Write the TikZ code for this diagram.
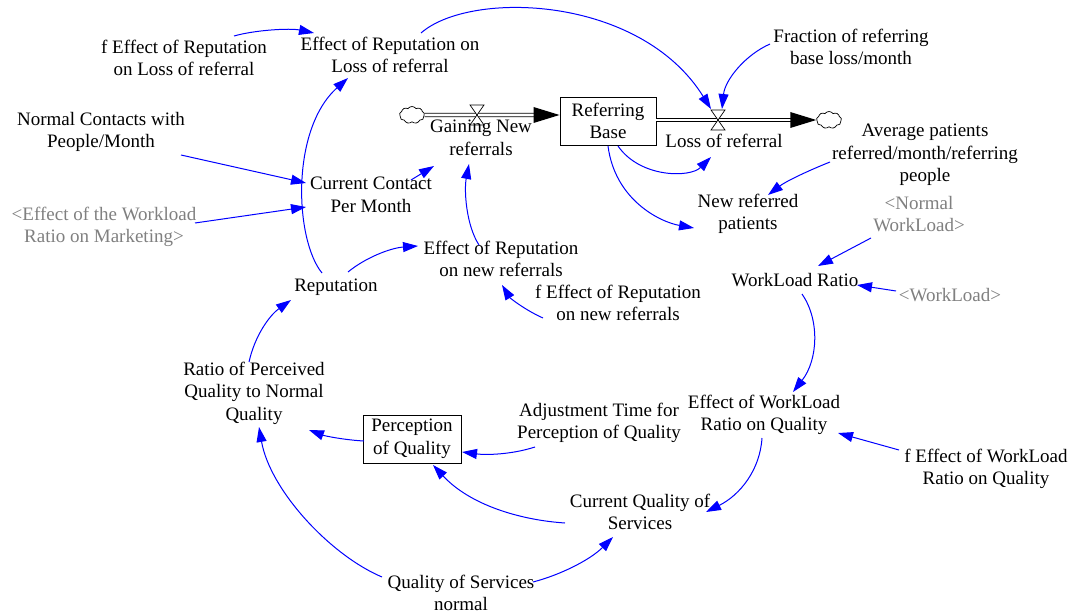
\documentclass[tikz,border=0pt]{standalone}
\usepackage{fontspec}
\setmainfont{Liberation Serif}
\usetikzlibrary{arrows.meta,calc,shapes.symbols}
\definecolor{vblue}{RGB}{0,0,255}
\definecolor{vgray}{RGB}{128,128,128}
\newcommand{\vfs}{\fontsize{19}{22.5}\selectfont}
\tikzset{
  lbl/.style={align=center, inner sep=1pt, font=\vfs},
  shadow/.style={lbl, text=vgray},
  stockbox/.style={draw, line width=0.9pt, align=center, font=\vfs, minimum width=96pt, minimum height=48pt, inner sep=1pt},
  arr/.style={draw=vblue, line width=1pt, -{Triangle[length=15pt,width=10pt]}, fill=none},
  pipe/.style={draw=black, double=white, double distance=2.6pt, line width=0.8pt},
  cloudn/.style={cloud, draw, cloud puffs=9, cloud puff arc=110, minimum width=25pt, minimum height=17pt, inner sep=0pt, line width=0.7pt, fill=white},
  valvetri/.style={draw=black, fill=white, line width=0.7pt}
}
\begin{document}
\begin{tikzpicture}[x=1pt,y=-1pt]
\useasboundingbox (0,0) rectangle (1073,615);
\fill[white] (0,0) rectangle (1073,615);

% stocks
\node[stockbox] (RB) at (608,121) {Referring\\Base};
\node[stockbox, minimum width=98pt] (PQ) at (412,439) {Perception\\of Quality};

% clouds and valves
\node[cloudn] (c1) at (412,115) {};
\node[cloudn] (c2) at (829,120) {};
\coordinate (v1) at (477,115);
\coordinate (v2) at (718,120);

% pipes
\draw[pipe] (c1.east) -- ($(RB.west |- v1)+(-22,0)$);
\fill[black] (RB.west |- v1) -- ++(-26,-8) -- ++(0,16) -- cycle;
\draw[pipe] (RB.east |- v2) -- ($(c2.west |- v2)+(-22,0)$);
\fill[black] (c2.west |- v2) -- ++(-26,-8) -- ++(0,16) -- cycle;
\draw[valvetri] (v1) -- ++(-7,-10) -- ++(14,0) -- cycle;
\draw[valvetri] (v1) -- ++(-7,10) -- ++(14,0) -- cycle;
\draw[valvetri] (v2) -- ++(-7,-10) -- ++(14,0) -- cycle;
\draw[valvetri] (v2) -- ++(-7,10) -- ++(14,0) -- cycle;

% variables
\node[lbl] (fERL) at (184,58) {f Effect of Reputation\\on Loss of referral};
\node[lbl] (ERL) at (390,55) {Effect of Reputation on\\Loss of referral};
\node[lbl] (NC) at (101,132) {Normal Contacts with\\People/Month};
\node[lbl] (CCPM) at (371,195) {Current Contact\\Per Month};
\node[shadow] (EWM) at (104,227) {<Effect of the Workload\\Ratio on Marketing>};
\node[lbl] (Rep) at (336,287) {Reputation};
\node[lbl] (ERNR) at (501,259) {Effect of Reputation\\on new referrals};
\node[lbl] (fERNR) at (618,303) {f Effect of Reputation\\on new referrals};
\node[lbl] (RPQ) at (254,393) {Ratio of Perceived\\Quality to Normal\\Quality};
\node[lbl] (ATPQ) at (599,423) {Adjustment Time for\\Perception of Quality};
\node[lbl] (EWQ) at (764,415) {Effect of WorkLoad\\Ratio on Quality};
\node[lbl] (fEWQ) at (986,469) {f Effect of WorkLoad\\Ratio on Quality};
\node[lbl] (CQS) at (640,512) {Current Quality of\\Services};
\node[lbl] (QSN) at (461,593) {Quality of Services\\normal};
\node[lbl] (WR) at (795,280) {WorkLoad Ratio};
\node[shadow] (WL) at (950,295) {<WorkLoad>};
\node[shadow] (NWL) at (919,214) {<Normal\\WorkLoad>};
\node[lbl] (APR) at (925,155) {Average patients\\referred/month/referring\\people};
\node[lbl] (NRP) at (748,214) {New referred\\patients};
\node[lbl] (FRB) at (851,47) {Fraction of referring\\base loss/month};
\node[lbl] (LR) at (724,141) {Loss of referral};
\node[lbl] (GNR) at (481,138) {Gaining New\\referrals};

% causal links
\draw[arr] ($(fERL)+(50,-22)$) .. controls (255,30) and (290,28) .. ($(ERL)+(-76,-22)$);
\draw[arr] ($(ERL)+(31,-22)$) .. controls (470,-10) and (640,-5) .. ($(v2)+(-7,-11)$);
\draw[arr] ($(FRB)+(-81,-3)$) .. controls (745,55) and (725,80) .. ($(v2)+(4,-11)$);
\draw[arr] ($(Rep)+(-14,-14)$) .. controls (295,240) and (290,130) .. ($(ERL)+(-42,23)$);
\draw[arr] ($(NC)+(80,23)$) -- ($(CCPM)+(-65,-12)$);
\draw[arr] ($(EWM)+(91,-4)$) -- ($(CCPM)+(-65,12)$);
\draw[arr] ($(CCPM)+(40,-15)$) -- ($(GNR)+(-47,28)$);
\draw[arr] ($(ERNR)+(-22,-14)$) .. controls (466,225) and (464,190) .. ($(GNR)+(-12,26)$);
\draw[arr] ($(Rep)+(12,-15)$) .. controls (365,258) and (390,248) .. ($(ERNR)+(-83,-13)$);
\draw[arr] ($(fERNR)+(-75,15)$) .. controls (525,310) and (510,298) .. ($(ERNR)+(1,26)$);
\draw[arr] ($(RB)+(10,25)$) .. controls (640,178) and (690,178) .. ($(LR)+(-13,16)$);
\draw[arr] ($(RB)+(0,25)$) .. controls (615,200) and (660,222) .. ($(NRP)+(-54,14)$);
\draw[arr] ($(APR)+(-95,7)$) .. controls (805,172) and (785,182) .. ($(NRP)+(20,-19)$);
\draw[arr] ($(NWL)+(-48,24)$) -- ($(WR)+(23,-14)$);
\draw[arr] ($(WL)+(-54,-4)$) -- ($(WR)+(62,5)$);
\draw[arr] ($(WR)+(7,14)$) .. controls (820,320) and (818,360) .. ($(EWQ)+(29,-23)$);
\draw[arr] ($(EWQ)+(-2,23)$) .. controls (760,470) and (740,495) .. ($(CQS)+(66,0)$);
\draw[arr] ($(fEWQ)+(-87,-19)$) -- ($(EWQ)+(74,18)$);
\draw[arr] ($(ATPQ)+(-64,24)$) .. controls (510,455) and (485,455) .. ($(PQ)+(50,13)$);
\draw[arr] ($(PQ)+(-48,2)$) .. controls (345,440) and (325,436) .. ($(RPQ)+(55,37)$);
\draw[arr] ($(CQS)+(-75,11)$) .. controls (520,520) and (470,505) .. ($(PQ)+(21,26)$);
\draw[arr] ($(QSN)+(72,-11)$) .. controls (560,575) and (590,560) .. ($(CQS)+(-27,25)$);
\draw[arr] ($(QSN)+(-79,-16)$) .. controls (330,555) and (270,490) .. ($(RPQ)+(5,34)$);
\draw[arr] ($(RPQ)+(-5,-31)$) .. controls (255,335) and (270,315) .. ($(Rep)+(-45,13)$);
\end{tikzpicture}
\end{document}
